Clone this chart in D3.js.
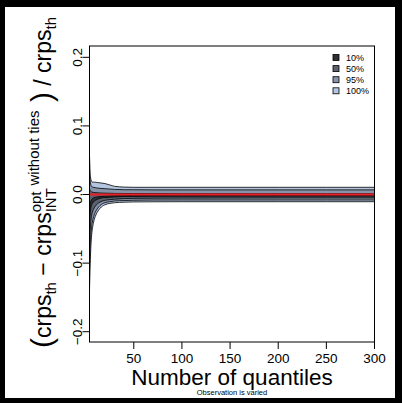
<!DOCTYPE html>
<html>
<head>
<meta charset="utf-8">
<script src="https://cdn.jsdelivr.net/npm/d3@7"></script>
<style>
  body { margin: 0; background: #000; }
  svg { display: block; }
  text { font-family: "Liberation Sans", Arial, Helvetica, sans-serif; }
</style>
</head>
<body>
<div id="chart"></div>
<script>
// number of quantiles (x) and the quantile envelopes of the relative difference
const nQuant = [4, 5, 6, 7, 8, 10, 12, 15, 20, 25, 30, 40, 50, 70, 100, 150, 200, 250, 300];
const qMax  = [0.057, 0.026, 0.020, 0.018, 0.018, 0.018, 0.0175, 0.017, 0.016, 0.014, 0.012, 0.0108, 0.0105, 0.0105, 0.0105, 0.0105, 0.0105, 0.0105, 0.0105];
const q975  = [0.032, 0.017, 0.012, 0.011, 0.0105, 0.010, 0.0095, 0.009, 0.0085, 0.008, 0.0075, 0.007, 0.007, 0.0068, 0.0068, 0.0068, 0.0068, 0.0068, 0.0068];
const q75   = [0.008, 0.005, 0.004, 0.0035, 0.003, 0.0028, 0.0025, 0.0022, 0.002, 0.0018, 0.0016, 0.0015, 0.0014, 0.0013, 0.0012, 0.0012, 0.0012, 0.0012, 0.0012];
const q55   = [-0.02, -0.012, -0.008, -0.006, -0.005, -0.004, -0.0035, -0.003, -0.0025, -0.002, -0.0018, -0.0015, -0.0013, -0.0012, -0.0011, -0.001, -0.001, -0.001, -0.001];
const q45   = [-0.04, -0.024, -0.016, -0.013, -0.011, -0.0085, -0.007, -0.0055, -0.0045, -0.004, -0.0035, -0.003, -0.0028, -0.0026, -0.0025, -0.0024, -0.0024, -0.0024, -0.0024];
const q25   = [-0.07, -0.045, -0.032, -0.026, -0.022, -0.017, -0.014, -0.011, -0.0085, -0.0075, -0.0068, -0.006, -0.0056, -0.0053, -0.0052, -0.0051, -0.005, -0.005, -0.005];
const q025  = [-0.11, -0.07, -0.05, -0.04, -0.034, -0.026, -0.021, -0.016, -0.012, -0.0105, -0.0095, -0.0088, -0.0084, -0.0081, -0.008, -0.008, -0.008, -0.008, -0.008];
const qMin  = [-0.14, -0.09, -0.063, -0.05, -0.042, -0.032, -0.026, -0.02, -0.015, -0.013, -0.012, -0.0112, -0.0108, -0.0106, -0.0105, -0.0105, -0.0105, -0.0105, -0.0105];

const bandNames = ["100%", "95%", "50%", "10%"];
const bandColors = ["#b3c5e0", "#8793a8", "#5a616d", "#2c3036"];
const xTicks = [50, 100, 150, 200, 250, 300];
const yTicks = [-0.2, -0.1, 0.0, 0.1, 0.2];

const width = 402, height = 403;
const plot = { left: 89.5, right: 374.5, top: 46, bottom: 342 };

const svg = d3.select("#chart").append("svg")
  .attr("width", width).attr("height", height);

// black frame around the white page
svg.append("rect").attr("width", width).attr("height", height).attr("fill", "#000");
svg.append("rect").attr("x", 5).attr("y", 7).attr("width", 390).attr("height", 391).attr("fill", "#fff");

const x = d3.scaleLinear().domain([4, 300]).range([plot.left, plot.right]);
const y = d3.scaleLinear().domain([-0.215, 0.2165]).range([plot.bottom, plot.top]);

const bands = [
  { lo: qMin, hi: qMax },
  { lo: q025, hi: q975 },
  { lo: q25, hi: q75 },
  { lo: q45, hi: q55 }
];

const area = d3.area()
  .x(d => x(d.n))
  .y0(d => y(d.lo))
  .y1(d => y(d.hi))
  .curve(d3.curveMonotoneX);

bands.forEach((b, i) => {
  const pts = nQuant.map((n, k) => ({ n: n, lo: b.lo[k], hi: b.hi[k] }));
  svg.append("path")
    .datum(pts)
    .attr("d", area)
    .attr("fill", bandColors[i])
    .attr("stroke", "#000")
    .attr("stroke-width", 0.8);
});

// reference line at zero
svg.append("line")
  .attr("x1", plot.left).attr("x2", plot.right)
  .attr("y1", y(0)).attr("y2", y(0))
  .attr("stroke", "#ee1c24").attr("stroke-width", 1.8);

// box
svg.append("rect")
  .attr("x", plot.left).attr("y", plot.top)
  .attr("width", plot.right - plot.left).attr("height", plot.bottom - plot.top)
  .attr("fill", "none").attr("stroke", "#000").attr("stroke-width", 1);

// x axis
const xAxis = svg.append("g");
xAxis.selectAll("line").data(xTicks).enter().append("line")
  .attr("x1", d => x(d)).attr("x2", d => x(d))
  .attr("y1", plot.bottom).attr("y2", plot.bottom + 7)
  .attr("stroke", "#000");
xAxis.selectAll("text").data(xTicks).enter().append("text")
  .attr("x", d => x(d)).attr("y", 363)
  .attr("text-anchor", "middle").attr("font-size", 13.5)
  .text(d => d);

// y axis (labels parallel to the axis, R style)
const yAxis = svg.append("g");
yAxis.selectAll("line").data(yTicks).enter().append("line")
  .attr("x1", plot.left - 7).attr("x2", plot.left)
  .attr("y1", d => y(d)).attr("y2", d => y(d))
  .attr("stroke", "#000");
yAxis.selectAll("text").data(yTicks).enter().append("text")
  .attr("transform", d => `translate(82,${y(d)}) rotate(-90)`)
  .attr("text-anchor", "middle").attr("font-size", 13.5)
  .text(d => d3.format(".1f")(d).replace("-", "\u2212"));

// axis titles
svg.append("text")
  .attr("x", 232).attr("y", 384.5)
  .attr("text-anchor", "middle").attr("font-size", 22.5)
  .text("Number of quantiles");
svg.append("text")
  .attr("x", 232).attr("y", 395)
  .attr("text-anchor", "middle").attr("font-size", 7.5).attr("fill", "#000")
  .text("Observation is varied");

// y title: (crps_th - crps_INT^{opt without ties}) / crps_th
const yl = svg.append("g");
const pieces = [
  { t: "(", s: 30, dy: 1 },
  { t: "crps", s: 23, dy: 0 },
  { t: "th", s: 15, dy: 5 },
  { t: " \u2212 ", s: 23, dy: 0 },
  { t: "crps", s: 23, dy: 0 },
  { stack: [ { t: "INT", s: 15, dy: 5 }, { t: "opt", s: 15, dy: -10, next: { t: "without ties", s: 15, dy: -12, gap: 6 } } ] },
  { t: " )", s: 30, dy: 1 },
  { t: " / ", s: 23, dy: 0 },
  { t: "crps", s: 23, dy: 0 },
  { t: "th", s: 15, dy: 5 }
];
function put(p, at) {
  const el = yl.append("text").attr("x", at).attr("y", p.dy)
    .attr("font-size", p.s).style("white-space", "pre").text(p.t);
  return el.node().getComputedTextLength();
}
let pos = 0;
pieces.forEach(p => {
  if (p.stack) {
    let adv = 0;
    p.stack.forEach(s => {
      let w = put(s, pos);
      if (s.next) w += s.next.gap + put(s.next, pos + w + s.next.gap);
      adv = Math.max(adv, w);
    });
    pos += adv;
  } else {
    pos += put(p, pos);
  }
});
yl.attr("transform", `translate(51,${348}) rotate(-90)`);

// legend
const leg = svg.append("g");
const legOrder = [3, 2, 1, 0];
legOrder.forEach((bi, r) => {
  const ly = 57.5 + r * 11.1;
  leg.append("rect")
    .attr("x", 333).attr("y", ly - 3).attr("width", 6).attr("height", 6)
    .attr("fill", bandColors[bi]).attr("stroke", "#000").attr("stroke-width", 0.8);
  leg.append("text")
    .attr("x", 346).attr("y", ly + 3.2).attr("font-size", 9)
    .text(bandNames[bi]);
});
</script>
</body>
</html>
